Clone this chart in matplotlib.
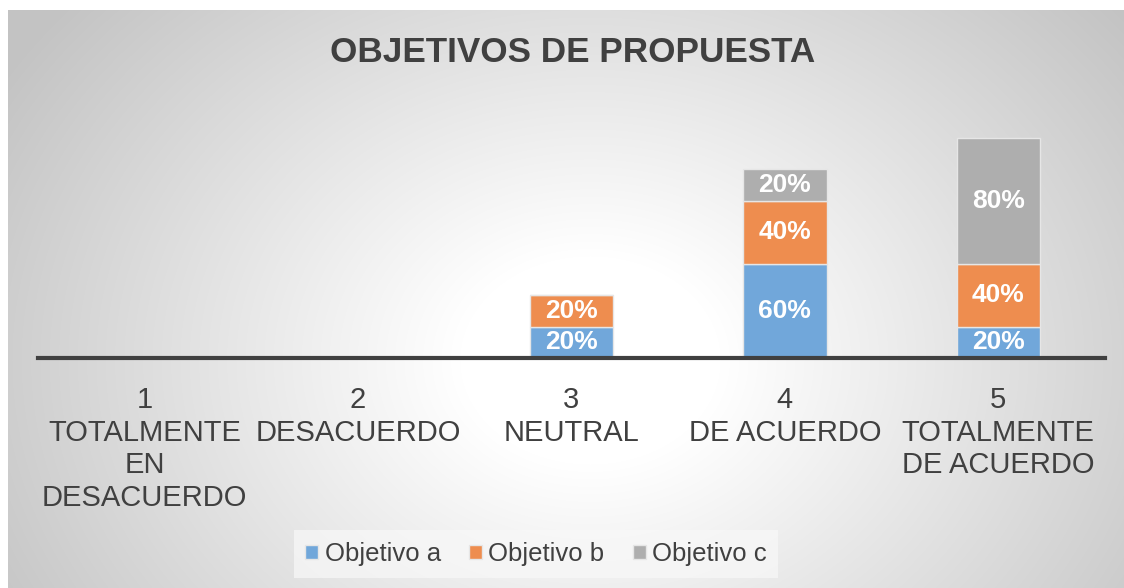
import numpy as np
import matplotlib.pyplot as plt

plt.rcParams['font.family'] = ['Liberation Sans', 'DejaVu Sans']

# datos del grafico
categorias = ["1\nTOTALMENTE\nEN\nDESACUERDO", "2\nDESACUERDO", "3\nNEUTRAL",
              "4\nDE ACUERDO", "5\nTOTALMENTE\nDE ACUERDO"]
series = ["Objetivo a", "Objetivo b", "Objetivo c"]
obj_a = [0, 0, 20, 60, 20]
obj_b = [0, 0, 20, 40, 40]
obj_c = [0, 0, 0, 20, 80]
colores = ["#71A7DA", "#EE8D4F", "#AEAEAE"]

W, H = 1124, 588
fig = plt.figure(figsize=(W / 100, H / 100), dpi=100)
fig.patch.set_facecolor("white")

# fondo con degradado radial
bg = fig.add_axes([8 / W, 0, 1 - 8 / W, 1 - 10 / H], zorder=-10)
xx, yy = np.meshgrid(np.arange(8, W), np.arange(10, H))
d = np.sqrt(((xx - 590) / 1.0) ** 2 + ((yy - 360) / 0.8) ** 2)
g = 255 - 60 * np.clip((d - 130) / 560, 0, 1)
img = np.dstack([g, g, g]) / 255.0
bg.imshow(img, aspect="auto", interpolation="bilinear")
bg.set_axis_off()

# ejes principales
ax_l, ax_r = 38, 1105
ax_b, ax_t = 358, 106
ax = fig.add_axes([ax_l / W, 1 - ax_b / H, (ax_r - ax_l) / W, (ax_b - ax_t) / H])
ax.patch.set_alpha(0)

x = np.arange(len(categorias))
ancho = 0.39
datos = [obj_a, obj_b, obj_c]
base = np.zeros(len(categorias))
for vals, nombre, col in zip(datos, series, colores):
    vals = np.array(vals, dtype=float)
    ax.bar(x, vals, ancho, bottom=base, color=col, edgecolor="#E6E6E6",
           linewidth=1, label=nombre)
    for xi, v, b in zip(x, vals, base):
        if v > 0:
            ax.text(xi, b + v / 2, f"{int(v)}%", ha="center", va="center",
                    color="white", fontsize=19, fontweight="bold")
    base += vals

ax.set_xlim(-0.5, 4.5)
ax.set_ylim(0, 160)
ax.set_yticks([])
for s in ["top", "right", "left"]:
    ax.spines[s].set_visible(False)
ax.spines["bottom"].set_color("#404040")
ax.spines["bottom"].set_linewidth(3)
ax.set_xticks(x)
ax.set_xticklabels(categorias, fontsize=21, color="#404040", linespacing=1.22)
ax.tick_params(axis="x", length=0, pad=20)

fig.text(573 / W, 1 - 52 / H, "OBJETIVOS DE PROPUESTA", ha="center", va="center",
         fontsize=25.3, fontweight="bold", color="#404040")

leg = fig.legend(loc="center", bbox_to_anchor=(536 / W, 1 - 554 / H), ncol=3,
                 fontsize=18.5, frameon=True, handlelength=0.5, handleheight=0.5,
                 handletextpad=0.25, columnspacing=1.1, fancybox=False,
                 borderpad=0.45, borderaxespad=0)
leg.get_frame().set_facecolor("#F8F8F8")
leg.get_frame().set_edgecolor("none")
leg.get_frame().set_alpha(0.7)
for t in leg.get_texts():
    t.set_color("#404040")

fig.savefig("out.png", dpi=100)
